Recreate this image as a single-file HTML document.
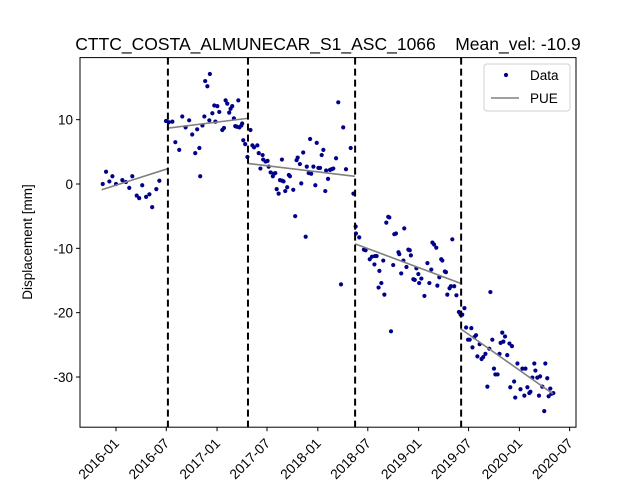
<!DOCTYPE html>
<html><head><meta charset="utf-8"><style>
body{margin:0;background:#fff;width:640px;height:480px;overflow:hidden}
svg{font-family:"Liberation Sans","DejaVu Sans",sans-serif}
</style></head><body>
<svg id="chart" width="640" height="480" viewBox="0 0 640 480"></svg>
<script>
// days since 2016-01-01
const days1=[-48,-36,-24,-13,0,23,36,48,59,75,84,95,109,121,131,146,157];
const vals1=[0,1.9,0.4,1.2,0,0.6,0.3,-0.6,1.2,-1.8,-2.2,-0.2,-2.0,-1.6,-3.6,-0.8,0.5];
const days2=[181,191,204,215,229,240,252,265,276,287,294,302,305,313,320,323,331,340,338,349,356,360,367,374,385,391,397,403,410,415,421,427,432,438,443,447,454,457,461,468,476];
const vals2=[9.8,9.6,9.7,6.5,5.3,10.5,8.8,9.9,7.7,4.8,8.5,5.6,1.2,9.1,10.5,16.0,15.2,17.1,9.9,11.0,12.2,9.7,12.1,11.2,8.4,8.7,13.0,12.5,11.1,11.7,12.1,10.2,9.0,8.9,13.0,8.8,9.1,9.4,6.8,6.2,4.2];
const days3=[487,494,500,512,517,523,531,533,542,549,553,560,568,572,577,582,589,594,601,602,607,613,620,626,630,642,649,654,658,666,671,678,687,691,698,703,707,715,722,727,733,739,745,751,758,761,768,775,781,787,797,805,815,823,833,850,860];
const vals3=[8.4,6.0,5.7,6.0,4.8,2.4,4.5,3.8,3.5,3.6,2.7,1.8,1.2,1.6,1.7,-0.8,-1.5,0.6,3.8,0.5,0.4,-1.1,-0.5,1.4,1.2,-0.9,-5.0,3.7,4.1,3.1,0.1,4.9,-8.2,2.7,1.7,7.0,1.6,2.7,-0.2,6.4,2.5,2.5,4.5,5.3,-1.1,2.1,0.8,2.2,2.3,2.4,4.0,12.7,-15.6,8.8,2.3,5.6,-1.5];
const days4=[868,869,881,898,904,919,927,936,938,944,954,951,961,968,972,979,986,990,996,1004,1008,1014,1023,1026,1033,1041,1044,1052,1059,1064,1068,1077,1082,1088,1095,1098,1106,1117,1128,1135,1142,1146,1152,1160,1164,1171,1178,1182,1191,1195,1200,1208,1213,1218,1225,1233,1242,1248];
const vals4=[-6.6,-7.7,-8.3,-10.2,-10.3,-11.7,-11.3,-12.5,-11.2,-11.2,-13.5,-16.1,-15.4,-11.9,-17.2,-6.0,-5.1,-5.2,-22.9,-12.6,-7.8,-7.7,-10.6,-10.9,-13.9,-11.9,-6.9,-12.9,-10.2,-10.3,-11.1,-14.8,-14.9,-13.1,-14.0,-15.4,-14.7,-17.4,-12.3,-15.4,-13.3,-9.1,-9.4,-9.9,-15.8,-14.5,-11.7,-11.9,-13.6,-13.7,-17.2,-16.2,-15.9,-8.6,-15.9,-17.3,-19.9,-20.3];
const days5=[1254,1262,1268,1275,1281,1287,1291,1298,1304,1309,1317,1324,1330,1338,1345,1352,1356,1363,1369,1374,1382,1389,1393,1399,1403,1409,1417,1425,1428,1434,1442,1446,1454,1465,1472,1479,1483,1490,1497,1501,1508,1515,1519,1526,1532,1536,1544,1551,1555,1562,1567,1573,1577,1584];
const vals5=[-20.3,-19.3,-22.3,-24.2,-24.2,-22.4,-25.4,-23.8,-23.5,-26.8,-24.9,-27.2,-26.9,-26.4,-31.5,-25.6,-16.8,-24.2,-28.7,-29.6,-29.6,-26.4,-24.7,-23.1,-24.5,-23.7,-26.6,-24.8,-31.6,-25.2,-30.7,-33.2,-27.9,-31.9,-28.7,-32.9,-28.7,-31.6,-32.5,-32.3,-30.1,-27.9,-29.0,-30.1,-32.9,-29.9,-31.5,-35.3,-27.9,-30.2,-33.0,-31.8,-32.6,-32.5];
const pueDays=[[-52,189],[190,476],[476,865],[866,1246],[1248,1582]];
const pueVals=[[-0.9,2.4],[8.7,10.2],[3.2,1.2],[-9.3,-15.4],[-22.5,-32.6]];
const breakDays=[188,478,866,1250];
const xTickDays=[0,182,366,547,731,912,1096,1277,1461,1643];
const xTickLabels=["2016-01","2016-07","2017-01","2017-07","2018-01","2018-07","2019-01","2019-07","2020-01","2020-07"];
const yTicks=[-30,-20,-10,0,10];

const L=80,R=576,T=57.6,B=427.2;
const xs=d=>116+d*0.2761;
const ys=v=>184-v*6.433;
const svg=document.getElementById('chart');
const NS='http://www.w3.org/2000/svg';
function mk(tag,attrs,parent){const e=document.createElementNS(NS,tag);for(const k in attrs)e.setAttribute(k,attrs[k]);(parent||svg).appendChild(e);return e;}

const title=mk('text',{x:328,y:50,'text-anchor':'middle','font-size':17.5});


title.textContent='CTTC_COSTA_ALMUNECAR_S1_ASC_1066    Mean_vel: -10.9';
title.style.whiteSpace='pre';

const pts=mk('g',{});


[[days1,vals1],[days2,vals2],[days3,vals3],[days4,vals4],[days5,vals5]].forEach(([ds,vs])=>{
  ds.forEach((d,i)=>{const c=mk('circle',{cx:xs(d),cy:ys(vs[i]),r:2.1,fill:'#00008b'},pts);
  
  });
});
pueDays.forEach((p,i)=>{const l=mk('line',{x1:xs(p[0]),y1:ys(pueVals[i][0]),x2:xs(p[1]),y2:ys(pueVals[i][1]),stroke:'#808080','stroke-width':1.6});
  
  });
breakDays.forEach(d=>{const l=mk('line',{x1:xs(d),y1:T,x2:xs(d),y2:B,stroke:'#000','stroke-width':2,'stroke-dasharray':'7,4'});
  
  });

const frame=mk('rect',{x:L,y:T,width:R-L,height:B-T,fill:'none',stroke:'#000','stroke-width':1});



xTickDays.forEach((d,i)=>{const x=xs(d);
  mk('line',{x1:x,y1:B,x2:x,y2:B+4,stroke:'#000'});
  const t=mk('text',{x:x+4,y:B+17,'text-anchor':'end','font-size':13.8,transform:`rotate(-45 ${x+4} ${B+17})`});
  
  
  t.textContent=xTickLabels[i];});
yTicks.forEach(v=>{const y=ys(v);
  mk('line',{x1:L-4,y1:y,x2:L,y2:y,stroke:'#000'});
  const t=mk('text',{x:L-7,y:y+5,'text-anchor':'end','font-size':13.5});
  
  
  t.textContent=v;});
const yl=mk('text',{x:32,y:242,'text-anchor':'middle','font-size':13.5,transform:'rotate(-90 32 242)'});


yl.textContent='Displacement [mm]';

const lg=mk('g',{});


mk('rect',{x:484,y:64,width:86,height:47,rx:3,fill:'#fff',stroke:'#d0d0d0'},lg);
mk('circle',{cx:506,cy:75,r:2.1,fill:'#00008b'},lg);
const t1=mk('text',{x:530,y:80,'font-size':13.5},lg);t1.textContent='Data';


mk('line',{x1:491,y1:98,x2:519,y2:98,stroke:'#808080','stroke-width':1.6},lg);
const t2=mk('text',{x:530,y:103,'font-size':13.5},lg);t2.textContent='PUE';


</script>
</body></html>
